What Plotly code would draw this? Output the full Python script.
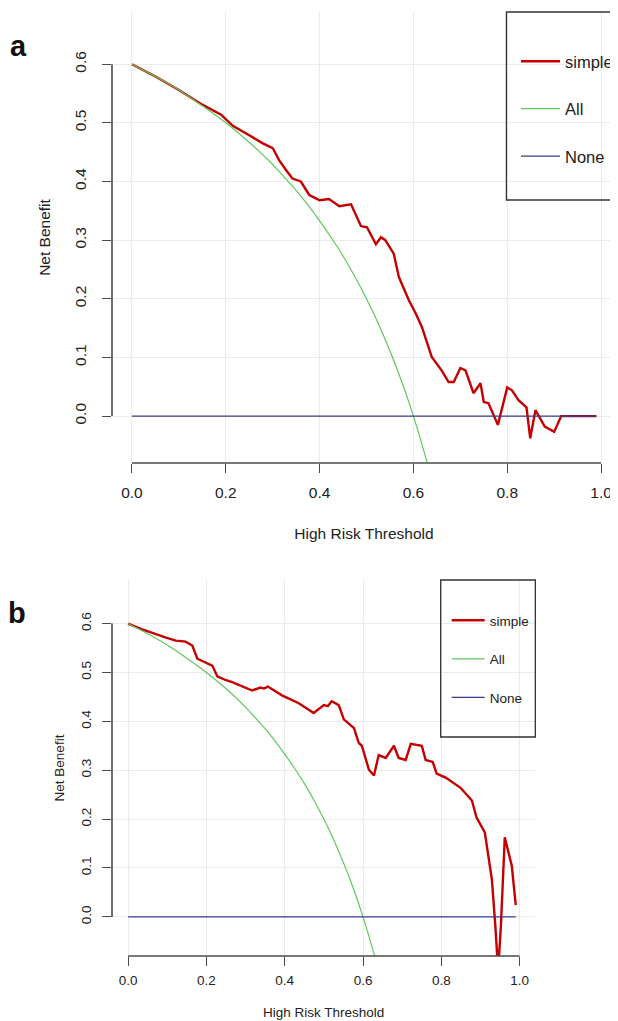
import plotly.graph_objects as go

# ---------------- data ----------------
thr_all = [0.0, 0.05, 0.1, 0.15, 0.2, 0.25, 0.3, 0.325, 0.35, 0.375, 0.4, 0.425, 0.45, 0.475,
           0.5, 0.525, 0.55, 0.575, 0.6, 0.625, 0.65]
nb_all = [0.6, 0.579, 0.556, 0.529, 0.5, 0.467, 0.429, 0.407, 0.385, 0.36, 0.333, 0.304, 0.273,
          0.238, 0.2, 0.158, 0.111, 0.059, 0.0, -0.067, -0.143]

thr_none = [0.0, 0.99]
nb_none = [0.0, 0.0]

thr_a = [0.0, 0.05, 0.1, 0.15, 0.19, 0.215, 0.25, 0.279, 0.3, 0.314, 0.33, 0.342, 0.36, 0.378,
         0.39, 0.4, 0.42, 0.442, 0.467, 0.488, 0.501, 0.52, 0.531, 0.54, 0.558, 0.569, 0.59,
         0.605, 0.618, 0.639, 0.66, 0.675, 0.686, 0.7, 0.711, 0.728, 0.743, 0.75, 0.76, 0.78,
         0.8, 0.81, 0.824, 0.841, 0.849, 0.86, 0.88, 0.9, 0.915, 0.99]
nb_a = [0.6, 0.579, 0.556, 0.531, 0.514, 0.495, 0.479, 0.465, 0.457, 0.436, 0.418, 0.405, 0.4,
        0.377, 0.372, 0.368, 0.37, 0.358, 0.361, 0.324, 0.322, 0.293, 0.305, 0.3, 0.277, 0.237,
        0.198, 0.175, 0.152, 0.101, 0.078, 0.058, 0.058, 0.082, 0.078, 0.039, 0.056, 0.024,
        0.022, -0.015, 0.049, 0.044, 0.027, 0.015, -0.038, 0.01, -0.018, -0.027, 0.0, 0.0]

thr_b = [0.0, 0.036, 0.097, 0.122, 0.147, 0.164, 0.177, 0.194, 0.215, 0.228, 0.25, 0.266, 0.317,
         0.338, 0.347, 0.357, 0.393, 0.436, 0.474, 0.5, 0.51, 0.52, 0.538, 0.551, 0.577, 0.589,
         0.597, 0.615, 0.628, 0.64, 0.658, 0.679, 0.691, 0.709, 0.722, 0.75, 0.76, 0.778, 0.788,
         0.811, 0.849, 0.878, 0.89, 0.911, 0.929, 0.938, 0.945, 0.952, 0.958, 0.962, 0.98, 0.99]
nb_b = [0.6, 0.588, 0.571, 0.565, 0.563, 0.555, 0.528, 0.522, 0.514, 0.492, 0.484, 0.48, 0.463,
        0.469, 0.467, 0.471, 0.453, 0.437, 0.417, 0.433, 0.431, 0.441, 0.433, 0.404, 0.386, 0.356,
        0.35, 0.301, 0.289, 0.331, 0.325, 0.35, 0.325, 0.321, 0.354, 0.35, 0.321, 0.317, 0.293,
        0.285, 0.264, 0.238, 0.203, 0.173, 0.077, -0.02, -0.11, -0.02, 0.1, 0.163, 0.104, 0.024]

series_names = ["simple", "All", "None"]
x_ticks = [0.0, 0.2, 0.4, 0.6, 0.8, 1.0]
x_ticklabels = ["0.0", "0.2", "0.4", "0.6", "0.8", "1.0"]
y_ticks = [0.0, 0.1, 0.2, 0.3, 0.4, 0.5, 0.6]
y_ticklabels = ["0.0", "0.1", "0.2", "0.3", "0.4", "0.5", "0.6"]
panel_labels = ["a", "b"]
x_title = "High Risk Threshold"
y_title = "Net Benefit"

# ---------------- styling ----------------
OFF = 8                       # page body margin of the rendered html
W, H = 618 - OFF, 1021 - OFF
ML, MT, MB = 112 - OFF, 12 - OFF, 65
PW = W - ML
PH = H - MT - MB
RED = "#c40000"
GREEN = "#5ec85e"
NAVY = "#3a3a8c"
AXC = "#4a4a4a"
GRID = "#ebebeb"
FONT = "Liberation Sans, Arial, sans-serif"


def px_paper_x(rx):
    # screen pixel x -> paper fraction
    return (rx - OFF - ML) / PW


def px_paper_y(ry):
    # screen pixel y (from top) -> paper fraction
    return (H - MB - (ry - OFF)) / PH


fig = go.Figure()

panels = [
    dict(xa="x", ya="y", leg="legend", thr=thr_a, nb=nb_a),
    dict(xa="x2", ya="y2", leg="legend2", thr=thr_b, nb=nb_b),
]
for p in panels:
    fig.add_trace(go.Scatter(x=p["thr"], y=p["nb"], mode="lines", name=series_names[0],
                             line=dict(color=RED, width=2.4), xaxis=p["xa"], yaxis=p["ya"],
                             legend=p["leg"], legendgroup=p["leg"] + "s", showlegend=True))
    fig.add_trace(go.Scatter(x=thr_all, y=nb_all, mode="lines", name=series_names[1],
                             line=dict(color=GREEN, width=1.2, shape="spline"),
                             xaxis=p["xa"], yaxis=p["ya"],
                             legend=p["leg"], legendgroup=p["leg"] + "a"))
    fig.add_trace(go.Scatter(x=thr_none, y=nb_none, mode="lines", name=series_names[2],
                             line=dict(color=NAVY, width=1.3), xaxis=p["xa"], yaxis=p["ya"],
                             legend=p["leg"], legendgroup=p["leg"] + "n"))

yr = [-0.08, 0.689]
common_x = dict(showgrid=True, gridcolor=GRID, gridwidth=1, zeroline=False, showline=False,
                ticks="outside", ticklen=9, tickwidth=1.4, tickcolor=AXC, automargin=False,
                tickvals=x_ticks, ticktext=x_ticklabels)
common_y = dict(showgrid=True, gridcolor=GRID, gridwidth=1, zeroline=False, showline=False,
                ticks="outside", ticklen=9, tickwidth=1.4, tickcolor=AXC, range=yr,
                automargin=False, tickvals=y_ticks, ticktext=y_ticklabels, tickangle=-90)

top_a, bot_a = 12, 463
top_b, bot_b = 580, 956

fig.update_layout(
    width=W, height=H, margin=dict(l=ML, r=0, t=MT, b=MB),
    paper_bgcolor="white", plot_bgcolor="white",
    font=dict(family=FONT, color="#222"),
    showlegend=True,
    xaxis=dict(common_x, domain=[0, 1], range=[-0.0425, 1.0318], anchor="y",
               tickfont=dict(size=15.5, color="#222"), ticklabelstandoff=6,
               title=dict(text=x_title, font=dict(size=15.5), standoff=28)),
    yaxis=dict(common_y, domain=[px_paper_y(bot_a), px_paper_y(top_a)], anchor="x",
               tickfont=dict(size=15.5, color="#222"), ticklabelstandoff=10,
               title=dict(text=y_title, font=dict(size=15.5), standoff=17)),
    xaxis2=dict(common_x, domain=[0, px_paper_x(537)], range=[-0.041, 1.04], anchor="y2",
                tickfont=dict(size=13.5, color="#222"), ticklabelstandoff=3,
                title=dict(text=x_title, font=dict(size=13.5), standoff=20)),
    yaxis2=dict(common_y, domain=[px_paper_y(bot_b), px_paper_y(top_b)], anchor="x2",
                tickfont=dict(size=13.5, color="#222"), ticklabelstandoff=6,
                title=dict(text=y_title, font=dict(size=13.5), standoff=10)),
    legend=dict(x=px_paper_x(518), y=px_paper_y(44), xanchor="left", yanchor="top",
                bgcolor="rgba(0,0,0,0)", borderwidth=0, font=dict(size=16.5, color="#222"),
                traceorder="grouped", tracegroupgap=23, itemwidth=39),
    legend2=dict(x=px_paper_x(448), y=px_paper_y(605), xanchor="left", yanchor="top",
                 bgcolor="rgba(0,0,0,0)", borderwidth=0, font=dict(size=13.5, color="#222"),
                 traceorder="grouped", tracegroupgap=18, itemwidth=33),
)

shapes = []
# R-style axis lines spanning only the tick range
for xa, ya in [("x", "y"), ("x2", "y2")]:
    shapes.append(dict(type="line", xref=xa, yref=ya + " domain", x0=0, x1=1, y0=0, y1=0,
                       line=dict(color=AXC, width=1.6)))
    shapes.append(dict(type="line", xref=xa + " domain", yref=ya, x0=0, x1=0, y0=0, y1=0.6,
                       line=dict(color=AXC, width=1.6)))
# legend boxes
shapes.append(dict(type="rect", xref="paper", yref="paper",
                   x0=px_paper_x(508), x1=px_paper_x(640), y0=px_paper_y(200), y1=px_paper_y(12),
                   line=dict(color="#333", width=1.3), fillcolor="rgba(0,0,0,0)"))
shapes.append(dict(type="rect", xref="paper", yref="paper",
                   x0=px_paper_x(442), x1=px_paper_x(537), y0=px_paper_y(737), y1=px_paper_y(580),
                   line=dict(color="#333", width=1.3), fillcolor="rgba(0,0,0,0)"))
fig.update_layout(shapes=shapes)

fig.add_annotation(text="<b>" + panel_labels[0] + "</b>", xref="paper", yref="paper",
                   x=px_paper_x(18), y=px_paper_y(46), xanchor="center", yanchor="middle",
                   showarrow=False, font=dict(size=29, color="#111", family=FONT))
fig.add_annotation(text="<b>" + panel_labels[1] + "</b>", xref="paper", yref="paper",
                   x=px_paper_x(17), y=px_paper_y(613), xanchor="center", yanchor="middle",
                   showarrow=False, font=dict(size=29, color="#111", family=FONT))

fig.write_html("out.html")
